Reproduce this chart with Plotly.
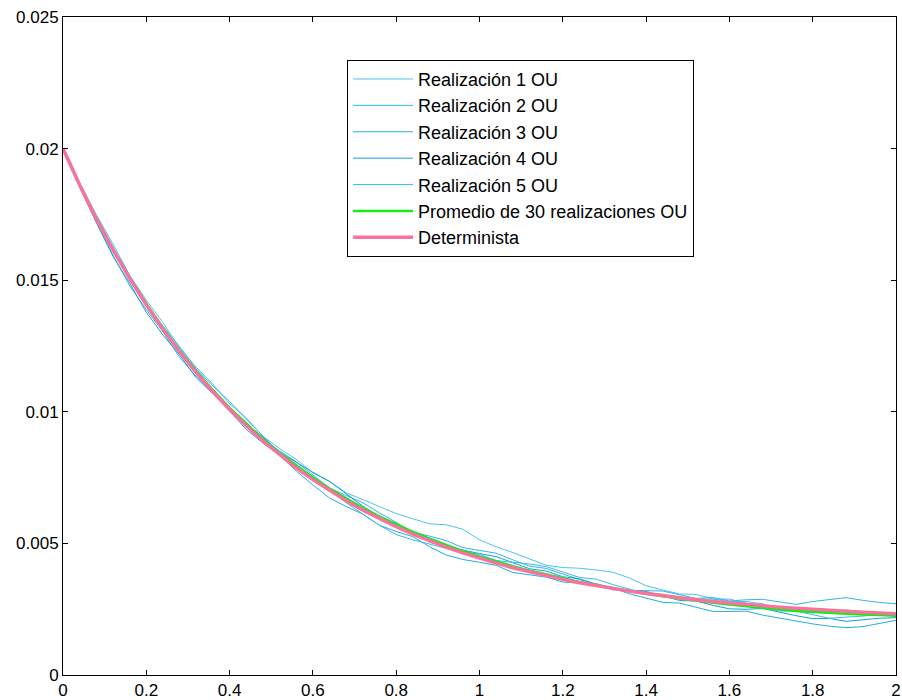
import numpy as np
import plotly.graph_objects as go

t = np.linspace(0, 2, 51)

real1 = [0.020000, 0.018696, 0.017488, 0.016379, 0.015190, 0.014245, 0.013388, 0.012422, 0.011691, 0.011042,
         0.010307, 0.009766, 0.009072, 0.008603, 0.008193, 0.007682, 0.007354, 0.006921, 0.006664, 0.006387,
         0.006134, 0.005935, 0.005746, 0.005708, 0.005539, 0.005135, 0.004868, 0.004655, 0.004417, 0.004169,
         0.004083, 0.004057, 0.003991, 0.003905, 0.003686, 0.003394, 0.003230, 0.003082, 0.003060, 0.002896,
         0.002784, 0.002797, 0.002705, 0.002528, 0.002533, 0.002411, 0.002424, 0.002469, 0.002407, 0.002306,
         0.002229]
real2 = [0.020000, 0.018566, 0.017218, 0.015959, 0.014790, 0.013885, 0.013038, 0.012062, 0.011341, 0.010712,
         0.010137, 0.009586, 0.008972, 0.008513, 0.008093, 0.007602, 0.007104, 0.006821, 0.006544, 0.006157,
         0.005784, 0.005435, 0.005276, 0.005108, 0.004839, 0.004735, 0.004628, 0.004375, 0.004137, 0.004049,
         0.003833, 0.003627, 0.003441, 0.003235, 0.003216, 0.003194, 0.003190, 0.003052, 0.002910, 0.002946,
         0.002814, 0.002857, 0.002875, 0.002778, 0.002683, 0.002791, 0.002854, 0.002939, 0.002837, 0.002756,
         0.002709]
real3 = [0.020000, 0.018676, 0.017298, 0.016209, 0.015190, 0.014125, 0.013058, 0.012302, 0.011591, 0.010802,
         0.010027, 0.009326, 0.008812, 0.008343, 0.007753, 0.007222, 0.006724, 0.006401, 0.006114, 0.005687,
         0.005454, 0.005255, 0.004876, 0.004558, 0.004389, 0.004285, 0.004168, 0.003895, 0.003797, 0.003719,
         0.003533, 0.003487, 0.003471, 0.003305, 0.003086, 0.002914, 0.002760, 0.002732, 0.002560, 0.002416,
         0.002414, 0.002427, 0.002275, 0.002158, 0.002033, 0.001941, 0.001854, 0.001799, 0.001837, 0.001956,
         0.002079]
real4 = [0.020000, 0.018536, 0.017188, 0.015909, 0.014890, 0.013785, 0.012918, 0.012162, 0.011291, 0.010662,
         0.010067, 0.009546, 0.009042, 0.008463, 0.008073, 0.007702, 0.007354, 0.006871, 0.006414, 0.006017,
         0.005754, 0.005405, 0.005046, 0.004878, 0.004739, 0.004615, 0.004498, 0.004275, 0.004037, 0.003949,
         0.003733, 0.003657, 0.003441, 0.003255, 0.003206, 0.003174, 0.003010, 0.002832, 0.002810, 0.002646,
         0.002514, 0.002497, 0.002525, 0.002378, 0.002253, 0.002141, 0.002154, 0.002039, 0.002107, 0.002156,
         0.002179]
real5 = [0.020000, 0.018656, 0.017438, 0.016189, 0.015010, 0.014105, 0.013258, 0.012482, 0.011631, 0.010982,
         0.010387, 0.009716, 0.009072, 0.008463, 0.007893, 0.007542, 0.007054, 0.006541, 0.006114, 0.005687,
         0.005334, 0.005135, 0.004976, 0.004808, 0.004689, 0.004585, 0.004348, 0.004295, 0.004217, 0.004119,
         0.003913, 0.003707, 0.003641, 0.003435, 0.003266, 0.003094, 0.003070, 0.002882, 0.002880, 0.002876,
         0.002884, 0.002727, 0.002545, 0.002428, 0.002433, 0.002291, 0.002154, 0.002199, 0.002237, 0.002306,
         0.002329]
promedio = [0.020000, 0.018626, 0.017358, 0.016189, 0.015100, 0.014105, 0.013188, 0.012332, 0.011551, 0.010822,
            0.010147, 0.009536, 0.008962, 0.008433, 0.007953, 0.007502, 0.007084, 0.006701, 0.006344, 0.006017,
            0.005714, 0.005435, 0.005176, 0.004928, 0.004709, 0.004505, 0.004308, 0.004135, 0.003967, 0.003819,
            0.003673, 0.003537, 0.003411, 0.003295, 0.003186, 0.003084, 0.002990, 0.002902, 0.002820, 0.002746,
            0.002674, 0.002607, 0.002545, 0.002488, 0.002433, 0.002391, 0.002354, 0.002329, 0.002297, 0.002276,
            0.002249]
determinista = [0.020000, 0.018616, 0.017338, 0.016159, 0.015070, 0.014065, 0.013138, 0.012282, 0.011491, 0.010762,
                0.010087, 0.009466, 0.008892, 0.008363, 0.007873, 0.007422, 0.007004, 0.006621, 0.006264, 0.005937,
                0.005634, 0.005355, 0.005096, 0.004858, 0.004639, 0.004435, 0.004248, 0.004075, 0.003917, 0.003769,
                0.003633, 0.003507, 0.003391, 0.003285, 0.003186, 0.003094, 0.003010, 0.002932, 0.002860, 0.002796,
                0.002734, 0.002677, 0.002625, 0.002578, 0.002533, 0.002491, 0.002454, 0.002419, 0.002387, 0.002356,
                0.002329]

names = ["Realización 1 OU", "Realización 2 OU", "Realización 3 OU", "Realización 4 OU", "Realización 5 OU"]
colors = ["#4cc4f0", "#2fb6ea", "#24acdf", "#1a9dd3", "#35bcee"]

xtickvals = [0, 0.2, 0.4, 0.6, 0.8, 1, 1.2, 1.4, 1.6, 1.8, 2]
xticktext = ["0", "0.2", "0.4", "0.6", "0.8", "1", "1.2", "1.4", "1.6", "1.8", "2"]
ytickvals = [0, 0.005, 0.01, 0.015, 0.02, 0.025]
yticktext = ["0", "0.005", "0.01", "0.015", "0.02", "0.025"]

fig = go.Figure()
for nm, col, ys in zip(names, colors, [real1, real2, real3, real4, real5]):
    fig.add_trace(go.Scatter(x=t, y=ys, mode="lines", name=nm,
                             line=dict(color=col, width=1)))
fig.add_trace(go.Scatter(x=t, y=promedio, mode="lines", name="Promedio de 30 realizaciones OU",
                         line=dict(color="#11ee11", width=2.5)))
fig.add_trace(go.Scatter(x=t, y=determinista, mode="lines", name="Determinista",
                         line=dict(color="#f7739c", width=3.5)))

axis_common = dict(showline=True, linecolor="black", linewidth=1, mirror="ticks",
                   ticks="inside", ticklen=5, tickcolor="black", showgrid=False,
                   zeroline=False, automargin=False,
                   tickfont=dict(family="Liberation Sans, Arial", size=17, color="black"))

fig.update_layout(
    width=902, height=700,
    margin=dict(l=63, r=6, t=17, b=25, autoexpand=False),
    paper_bgcolor="white", plot_bgcolor="white",
    font=dict(family="Liberation Sans, Arial", size=17, color="black"),
    xaxis=dict(range=[0, 2], tickvals=xtickvals, ticktext=xticktext, **axis_common),
    yaxis=dict(range=[0, 0.025], tickvals=ytickvals, ticktext=yticktext, **axis_common),
    legend=dict(x=0.341, y=0.935, xanchor="left", yanchor="top",
                bgcolor="white", bordercolor="black", borderwidth=1,
                itemwidth=60,
                font=dict(family="Liberation Sans, Arial", size=18, color="black"),
                tracegroupgap=0),
    showlegend=True,
)

fig.write_html("out.html", config={"displayModeBar": False},
               post_script="document.body.style.margin='0';document.body.style.overflow='hidden';")
